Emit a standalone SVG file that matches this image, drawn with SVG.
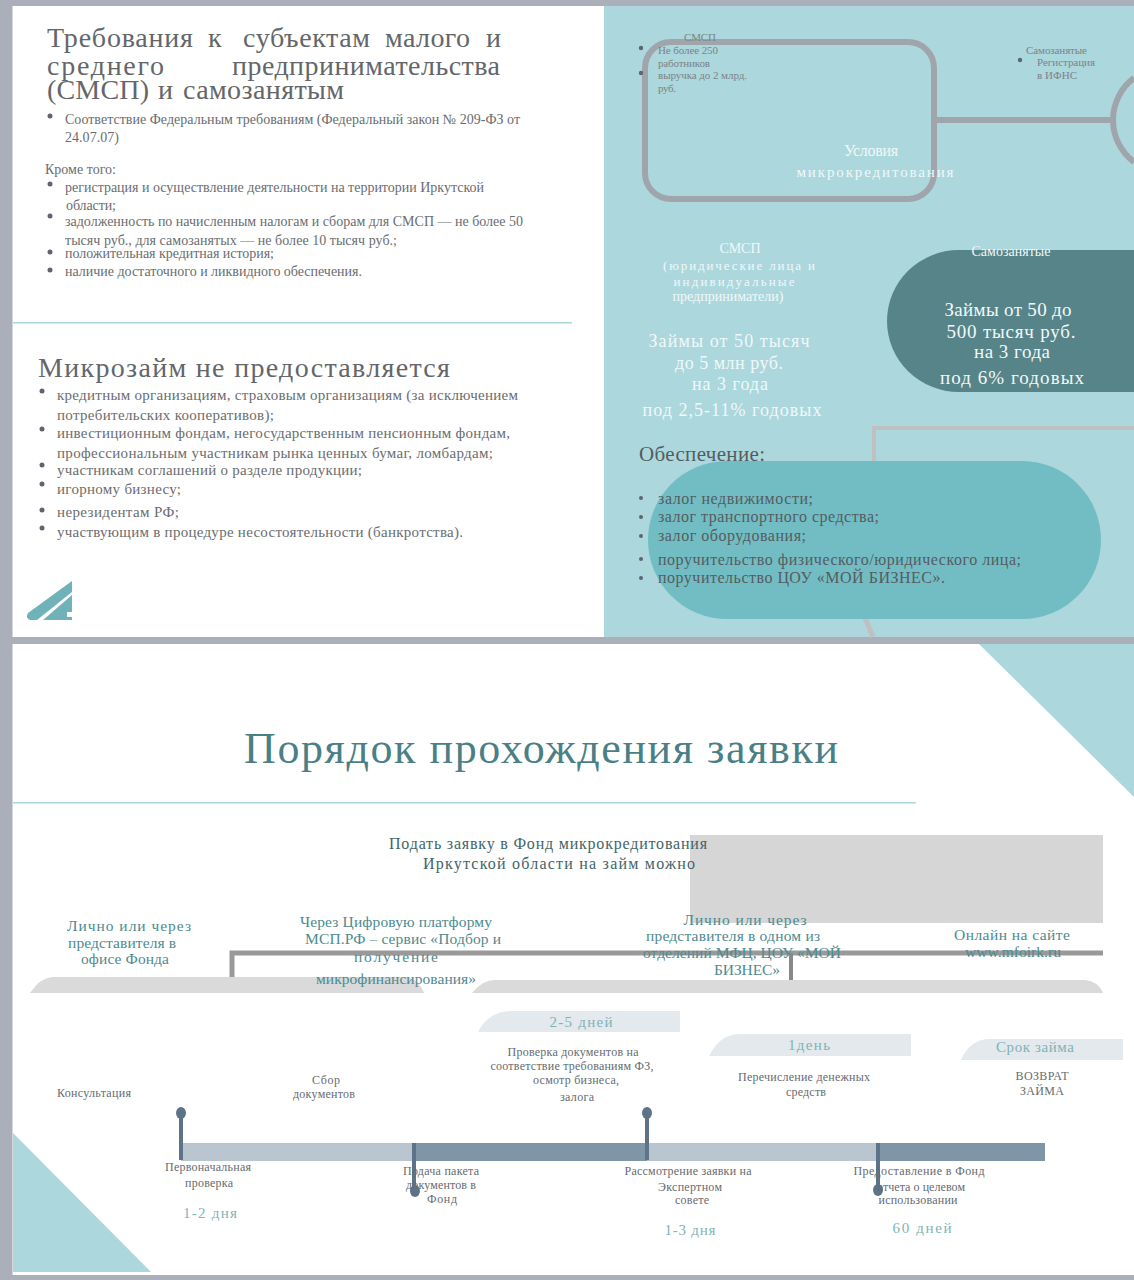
<svg xmlns="http://www.w3.org/2000/svg" width="1134" height="1280" viewBox="0 0 1134 1280">
<style>
text{font-family:"Liberation Serif","Times New Roman",serif;fill:#5f6468}
.h1{font-size:28px;fill:#63666a}
.b{font-size:14px;fill:#6a6d70}
.b2{font-size:15px;fill:#6a6d70}
.d{fill:#5f6470}
.w{fill:#f1f8f9}
.s{font-size:11px;fill:#7c8488}
.c{font-size:16px;fill:#555c60}
.g{font-size:15.5px;fill:#4e8a90}
.l{font-size:12px;fill:#666b70}
.v{fill:#7fb3b8;font-size:15px}
.m{text-anchor:middle}
.tick{stroke:#5d7388;stroke-width:4;fill:none}
.dot{fill:#5d7388}
</style>
<rect width="1134" height="1280" fill="#fff"/>
<g id="frame" fill="#abafba">
<rect x="0" y="0" width="12.500" height="1280"/>
<rect x="0" y="0" width="1134" height="6"/>
<rect x="0" y="637" width="1134" height="7"/>
<rect x="0" y="1275" width="1134" height="5"/>
</g>

<g id="slide-requirements">
<text class="h1" x="47" y="47" textLength="146">Требования</text>
<text class="h1" x="208" y="47" textLength="14">к</text>
<text class="h1" x="243" y="47" textLength="127">субъектам</text>
<text class="h1" x="385" y="47" textLength="85">малого</text>
<text class="h1" x="486" y="47" textLength="14">и</text>
<text class="h1" x="47" y="75" textLength="117">среднего</text>
<text class="h1" x="232" y="75" textLength="268">предпринимательства</text>
<text class="h1" x="47" y="99" textLength="102">(СМСП)</text>
<text class="h1" x="158" y="99" textLength="13">и</text>
<text class="h1" x="183" y="99" textLength="161">самозанятым</text>
<circle class="d" cx="50" cy="116" r="2.500"/>
<text class="b" x="65" y="124" textLength="455">Соответствие Федеральным требованиям (Федеральный закон № 209-ФЗ от</text>
<text class="b" x="65" y="142" textLength="54">24.07.07)</text>
<text class="b" x="45" y="174" textLength="71">Кроме того:</text>
<circle class="d" cx="50" cy="184" r="2.500"/>
<text class="b" x="65" y="192" textLength="419">регистрация и осуществление деятельности на территории Иркутской</text>
<text class="b" x="66" y="210" textLength="50">области;</text>
<circle class="d" cx="50" cy="216" r="2.500"/>
<text class="b" x="65" y="226" textLength="458">задолженность по начисленным налогам и сборам для СМСП — не более 50</text>
<text class="b" x="65" y="245" textLength="332">тысяч руб., для самозанятых — не более 10 тысяч руб.;</text>
<circle class="d" cx="50" cy="252" r="2.500"/>
<text class="b" x="65" y="258" textLength="209">положительная кредитная история;</text>
<circle class="d" cx="50" cy="270" r="2.500"/>
<text class="b" x="65" y="276" textLength="297">наличие достаточного и ликвидного обеспечения.</text>
<rect x="13" y="322" width="559" height="1.500" fill="#a9d5da"/>
<text class="h1" x="38" y="377" textLength="412">Микрозайм не предоставляется</text>
<circle class="d" cx="42" cy="391" r="2.500"/>
<text class="b2" x="57" y="400" textLength="461">кредитным организациям, страховым организациям (за исключением</text>
<text class="b2" x="57" y="420" textLength="217">потребительских кооперативов);</text>
<circle class="d" cx="42" cy="429" r="2.500"/>
<text class="b2" x="57" y="438" textLength="453">инвестиционным фондам, негосударственным пенсионным фондам,</text>
<text class="b2" x="57" y="458" textLength="436">профессиональным участникам рынка ценных бумаг, ломбардам;</text>
<circle class="d" cx="42" cy="465" r="2.500"/>
<text class="b2" x="57" y="475" textLength="305">участникам соглашений о разделе продукции;</text>
<circle class="d" cx="42" cy="484" r="2.500"/>
<text class="b2" x="57" y="494" textLength="124">игорному бизнесу;</text>
<circle class="d" cx="42" cy="510" r="2.500"/>
<text class="b2" x="57" y="517" textLength="122">нерезидентам РФ;</text>
<circle class="d" cx="42" cy="528" r="2.500"/>
<text class="b2" x="57" y="537" textLength="406">участвующим в процедуре несостоятельности (банкротства).</text>
<path d="M72 581V592L37 620H30Q25 618 28 613Z" fill="#6fb3b9"/>
<path d="M72 595V620H43Z" fill="#6fb3b9"/>
<rect x="67" y="612" width="5" height="5" fill="#fff"/>
</g>

<g id="slide-conditions">
<rect x="604" y="6" width="530" height="631" fill="#abd7dd"/>
<rect x="645" y="42" width="289" height="157" rx="26" fill="none" stroke="#a0a5ac" stroke-width="6"/>
<path d="M934 120H1115" stroke="#a0a5ac" stroke-width="6"/>
<path d="M1134 78A52.500 52.500 0 0 0 1134 162" fill="none" stroke="#a0a5ac" stroke-width="6"/>
<text class="s m" x="700" y="41" textLength="32">СМСП</text>
<circle class="d" cx="641" cy="48" r="2.200"/>
<text class="s" x="658" y="54" textLength="60">Не более 250</text>
<text class="s" x="658" y="67" textLength="52">работников</text>
<circle class="d" cx="641" cy="73" r="2.200"/>
<text class="s" x="658" y="79" textLength="89">выручка до 2 млрд.</text>
<text class="s" x="658" y="92" textLength="18">руб.</text>
<text class="s" x="1026" y="54" textLength="61">Самозанятые</text>
<circle class="d" cx="1020" cy="60" r="2.200"/>
<text class="s" x="1037" y="66" textLength="58">Регистрация</text>
<text class="s" x="1037" y="79" textLength="40">в ИФНС</text>
<text class="w m" x="871" y="156" font-size="16" textLength="54">Условия</text>
<text class="w m" x="875" y="177" font-size="15" textLength="157">микрокредитования</text>
<text class="w m" x="740" y="253" font-size="14" textLength="41">СМСП</text>
<text class="w m" x="739" y="270" font-size="13" textLength="152">(юридические лица и</text>
<text class="w m" x="734" y="286" font-size="13" textLength="121">индивидуальные</text>
<text class="w m" x="728" y="301" font-size="14" textLength="111">предприниматели)</text>
<text class="w m" x="729" y="347" font-size="18" textLength="161">Займы от 50 тысяч</text>
<text class="w m" x="729" y="369" font-size="18" textLength="108">до 5 млн руб.</text>
<text class="w m" x="730" y="390" font-size="18" textLength="76">на 3 года</text>
<text class="w m" x="732" y="416" font-size="18" textLength="179">под 2,5-11% годовых</text>
<path d="M1134 250H959A72 71 0 0 0 959 392H1134Z" fill="#568489"/>
<text class="w m" x="1011" y="256" font-size="14" textLength="79">Самозанятые</text>
<text class="w m" x="1008" y="316" font-size="19" textLength="127">Займы от 50 до</text>
<text class="w m" x="1011" y="338" font-size="19" textLength="129">500 тысяч руб.</text>
<text class="w m" x="1012" y="358" font-size="19" textLength="76">на 3 года</text>
<text class="w m" x="1012" y="384" font-size="19" textLength="144">под 6% годовых</text>
<path d="M1134 428H874V462" fill="none" stroke="#c2bfc0" stroke-width="4"/>
<path d="M865 618L873 637" fill="none" stroke="#c2bfc0" stroke-width="5"/>
<rect x="648" y="461" width="453" height="158" rx="79" fill="#72bdc4"/>
<text class="c" x="639" y="461" style="font-size:21px" textLength="126">Обеспечение:</text>
<circle class="d" cx="641" cy="498" r="2"/>
<text class="c" x="658" y="504" textLength="155">залог недвижимости;</text>
<circle class="d" cx="641" cy="517" r="2"/>
<text class="c" x="658" y="522" textLength="221">залог транспортного средства;</text>
<circle class="d" cx="641" cy="536" r="2"/>
<text class="c" x="658" y="541" textLength="148">залог оборудования;</text>
<circle class="d" cx="641" cy="559" r="2"/>
<text class="c" x="658" y="565" textLength="363">поручительство физического/юридического лица;</text>
<circle class="d" cx="641" cy="578" r="2"/>
<text class="c" x="658" y="583" textLength="287">поручительство ЦОУ «МОЙ БИЗНЕС».</text>
</g>

<g id="slide-process">
<path d="M979 644H1134V797Z" fill="#abd7dd"/>
<text class="m" x="541" y="763" style="font-size:44px;fill:#4a7f86" textLength="594">Порядок прохождения заявки</text>
<rect x="13" y="802" width="903" height="1.500" fill="#a9d5da"/>
<rect x="690" y="835" width="413" height="88" fill="#d6d6d6"/>
<path d="M232 977V953H1103" fill="none" stroke="#999" stroke-width="5"/>
<path d="M791 953V980" stroke="#888" stroke-width="4"/>
<path d="M30 993Q40 978 52 977H405Q418 978 424 993Z" fill="#dadada"/>
<path d="M472 993Q482 980 495 980H1085Q1098 981 1103 993Z" fill="#dadada"/>
<text class="m" x="548" y="849" style="font-size:16px;fill:#3f6468" textLength="318">Подать заявку в Фонд микрокредитования</text>
<text class="m" x="559" y="869" style="font-size:16px;fill:#3f6468" textLength="272">Иркутской области на займ можно</text>
<text class="g m" x="129" y="931" textLength="124">Лично или через</text>
<text class="g m" x="122" y="948" textLength="108">представителя в</text>
<text class="g m" x="125" y="964" textLength="88">офисе Фонда</text>
<text class="g m" x="396" y="927" textLength="192">Через Цифровую платформу</text>
<text class="g m" x="403" y="944" textLength="196">МСП.РФ – сервис «Подбор и</text>
<text class="g m" x="396" y="962" textLength="84">получение</text>
<text class="g m" x="396" y="984" textLength="160">микрофинансирования»</text>
<text class="g m" x="745" y="925" textLength="123">Лично или через</text>
<text class="g m" x="733" y="941" textLength="174">представителя в одном из</text>
<text class="g m" x="742" y="958" textLength="198">отделений МФЦ, ЦОУ «МОЙ</text>
<text class="g m" x="747" y="975" textLength="66">БИЗНЕС»</text>
<text class="g m" x="1012" y="940" textLength="116">Онлайн на сайте</text>
<text class="g m" x="1013" y="957" textLength="96">www.mfoirk.ru</text>
<path d="M478 1032Q488 1012 510 1011H680V1032Z" fill="#e3e9ec"/>
<path d="M709 1056Q720 1034 740 1034H911V1056Z" fill="#e3e9ec"/>
<path d="M961 1060Q970 1039 990 1039H1123V1060Z" fill="#e3e9ec"/>
<text class="v m" x="581" y="1027" textLength="63">2-5 дней</text>
<text class="v m" x="809" y="1050" textLength="42">1день</text>
<text class="v m" x="1035" y="1052" textLength="78">Срок займа</text>
<text class="l m" x="94" y="1097" textLength="74">Консультация</text>
<text class="l m" x="326" y="1084" textLength="28">Сбор</text>
<text class="l m" x="324" y="1098" textLength="62">документов</text>
<text class="l m" x="573" y="1056" textLength="131">Проверка документов на</text>
<text class="l m" x="572" y="1070" textLength="163">соответствие требованиям ФЗ,</text>
<text class="l m" x="576" y="1084" textLength="86">осмотр бизнеса,</text>
<text class="l m" x="577" y="1101" textLength="34">залога</text>
<text class="l m" x="804" y="1081" textLength="132">Перечисление денежных</text>
<text class="l m" x="806" y="1096" textLength="40">средств</text>
<text class="l m" x="1042" y="1080" textLength="53">ВОЗВРАТ</text>
<text class="l m" x="1042" y="1095" textLength="44">ЗАЙМА</text>
<rect x="181" y="1143" width="864" height="18" fill="#b9c5cf"/>
<rect x="414" y="1143" width="233" height="18" fill="#7f95a8"/>
<rect x="878" y="1143" width="167" height="18" fill="#7f95a8"/>
<path d="M13 1133V1272H151Z" fill="#abd7dd"/>
<path class="tick" d="M181 1113V1160M414 1143V1192M647 1113V1160M878 1143V1192"/>
<ellipse class="dot" cx="181" cy="1113" rx="5" ry="6"/>
<ellipse class="dot" cx="415" cy="1191" rx="5" ry="6"/>
<ellipse class="dot" cx="647" cy="1113" rx="5" ry="6"/>
<ellipse class="dot" cx="878" cy="1190" rx="5" ry="6"/>
<text class="l m" x="208" y="1171" textLength="86">Первоначальная</text>
<text class="l m" x="209" y="1187" textLength="48">проверка</text>
<text class="l m" x="441" y="1175" textLength="76">Подача пакета</text>
<text class="l m" x="441" y="1189" textLength="70">документов в</text>
<text class="l m" x="442" y="1203" textLength="30">Фонд</text>
<text class="l m" x="688" y="1175" textLength="127">Рассмотрение заявки на</text>
<text class="l m" x="690" y="1191" textLength="64">Экспертном</text>
<text class="l m" x="692" y="1204" textLength="34">совете</text>
<text class="l m" x="919" y="1175" textLength="131">Предоставление в Фонд</text>
<text class="l m" x="921" y="1191" textLength="88">отчета о целевом</text>
<text class="l m" x="918" y="1204" textLength="79">использовании</text>
<text class="v m" x="210" y="1218" textLength="54">1-2 дня</text>
<text class="v m" x="690" y="1235" textLength="51">1-3 дня</text>
<text class="v m" x="922" y="1233" textLength="59">60 дней</text>
</g>
</svg>
